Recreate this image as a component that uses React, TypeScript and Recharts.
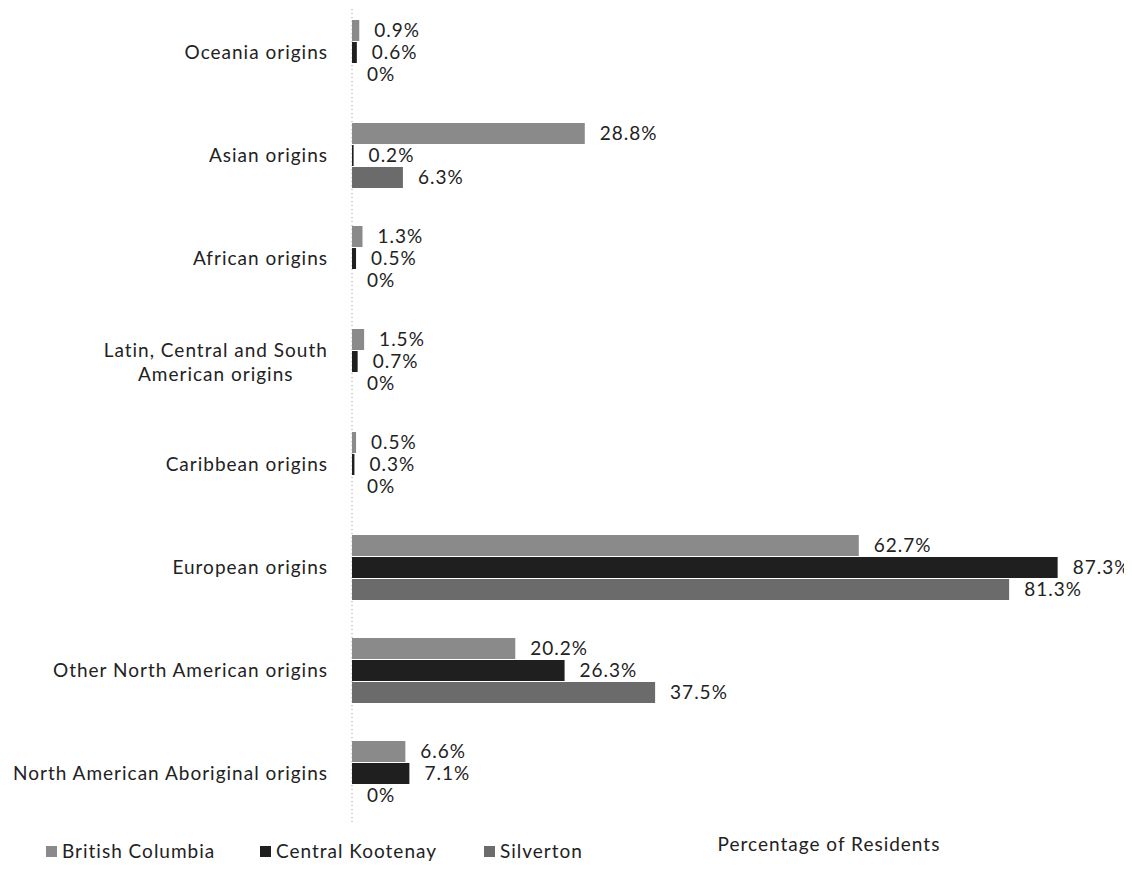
import React from "react";
import {
  Bar,
  BarChart,
  CartesianGrid,
  LabelList,
  XAxis,
  YAxis,
} from "recharts";

const categories = [
  "Oceania origins",
  "Asian origins",
  "African origins",
  "Latin, Central and South American origins",
  "Caribbean origins",
  "European origins",
  "Other North American origins",
  "North American Aboriginal origins",
];

const britishColumbia = [0.9, 28.8, 1.3, 1.5, 0.5, 62.7, 20.2, 6.6];
const centralKootenay = [0.6, 0.2, 0.5, 0.7, 0.3, 87.3, 26.3, 7.1];
const silverton = [0, 6.3, 0, 0, 0, 81.3, 37.5, 0];

const xTicks = [0, 20, 40, 60, 80];

// labels Excel wrapped onto two lines
const wrappedLabels: Record<string, string[]> = {
  "Latin, Central and South American origins": [
    "Latin, Central and South",
    "American origins",
  ],
};

const seriesInfo = [
  { key: "bc", name: "British Columbia", color: "#8a8a8a" },
  { key: "ck", name: "Central Kootenay", color: "#1f1f1f" },
  { key: "silverton", name: "Silverton", color: "#6b6b6b" },
];

const data = categories.map((category, i) => ({
  category,
  bc: britishColumbia[i],
  ck: centralKootenay[i],
  silverton: silverton[i],
}));

const FONT = "Lato, 'Open Sans', sans-serif";
const FONT_SIZE = 19;
const SPACING = 1;

const textWidth = (s: string) => {
  const ctx = document.createElement("canvas").getContext("2d");
  if (!ctx) return s.length * 9;
  ctx.font = `${FONT_SIZE}px Lato`;
  return ctx.measureText(s).width + s.length * SPACING;
};

const CategoryTick = (props: any) => {
  const { x, y, payload } = props;
  const lines = wrappedLabels[payload.value];
  if (lines) {
    const cx = x - textWidth(lines[0]) / 2;
    return (
      <text
        x={cx}
        y={y}
        textAnchor="middle"
        fontSize={FONT_SIZE}
        fontFamily={FONT}
        letterSpacing={SPACING}
        fill="#222"
      >
        <tspan x={cx} dy={-5}>
          {lines[0]}
        </tspan>
        <tspan x={cx} dy={24}>
          {lines[1]}
        </tspan>
      </text>
    );
  }
  return (
    <text
      x={x}
      y={y}
      dy={6}
      textAnchor="end"
      fontSize={FONT_SIZE}
      fontFamily={FONT}
      letterSpacing={SPACING}
      fill="#222"
    >
      {payload.value}
    </text>
  );
};

const legendLeft = [46, 260, 484];

export default function App() {
  return (
    <div
      style={{
        margin: -8,
        width: 1132,
        height: 869,
        background: "#fff",
        position: "relative",
        overflow: "hidden",
      }}
    >
      <BarChart
        width={1132}
        height={869}
        data={data}
        layout="vertical"
        margin={{ top: 1, right: 0, bottom: 4, left: 0 }}
        barSize={21}
        barGap={1}
      >
        <CartesianGrid
          horizontal={false}
          stroke="#9a9a9a"
          strokeDasharray="1 3"
        />
        <XAxis
          type="number"
          domain={[0, 96.5]}
          ticks={xTicks}
          tick={false}
          tickLine={false}
          axisLine={false}
          height={40}
          label={{
            value: "Percentage of Residents",
            position: "insideBottom",
            dx: 87,
            offset: 14,
            fontSize: FONT_SIZE,
            fontFamily: FONT,
            letterSpacing: SPACING,
            fill: "#222",
          }}
        />
        <YAxis
          type="category"
          dataKey="category"
          width={352}
          tickLine={false}
          axisLine={false}
          tick={<CategoryTick />}
          tickMargin={18}
          interval={0}
        />
        {seriesInfo.map((s) => (
          <Bar
            key={s.key}
            dataKey={s.key}
            name={s.name}
            fill={s.color}
            minPointSize={0.01}
            isAnimationActive={false}
          >
            <LabelList
              dataKey={s.key}
              position="right"
              offset={15}
              formatter={(v: any) => `${v}%`}
              fontSize={FONT_SIZE}
              fontFamily={FONT}
              letterSpacing={SPACING}
              fill="#222"
            />
          </Bar>
        ))}
      </BarChart>
      {seriesInfo.map((s, i) => (
        <div
          key={s.key}
          style={{
            position: "absolute",
            left: legendLeft[i],
            top: 840,
            height: 22,
            lineHeight: "22px",
            display: "flex",
            alignItems: "center",
            fontFamily: FONT,
            fontSize: FONT_SIZE,
            letterSpacing: SPACING,
            color: "#222",
            whiteSpace: "nowrap",
          }}
        >
          <span
            style={{
              display: "inline-block",
              width: 11,
              height: 11,
              background: s.color,
              marginRight: 5,
            }}
          />
          {s.name}
        </div>
      ))}
    </div>
  );
}
